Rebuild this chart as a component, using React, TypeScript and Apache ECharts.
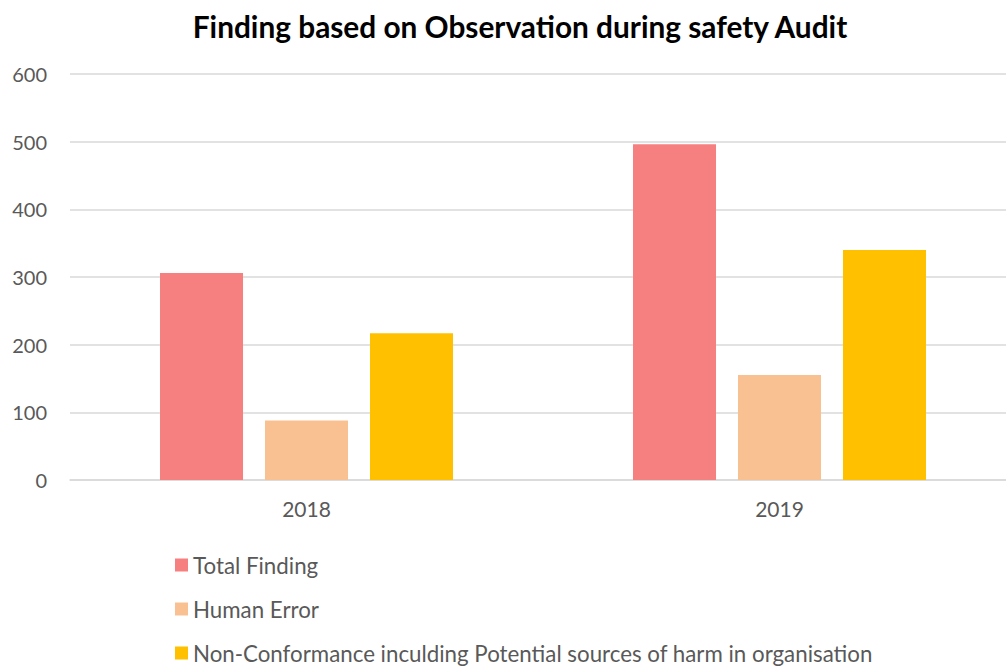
import React, { useEffect, useRef } from "react";
import * as echarts from "echarts";

const categories = ["2018", "2019"];
const seriesNames = [
  "Total Finding",
  "Human Error",
  "Non-Conformance inculding Potential sources of harm in organisation",
];
const totalFinding = [306, 496];
const humanError = [88, 155];
const nonConformance = [217, 340];
const colors = ["#F67F7F", "#F9C192", "#FFC000"];
const yTicks = { min: 0, max: 600, interval: 100 };

export default function App() {
  const ref = useRef<HTMLDivElement>(null);
  useEffect(() => {
    if (!ref.current) return;
    const chart = echarts.init(ref.current, null, { renderer: "svg" });
    const font = "Lato";
    const values = [totalFinding, humanError, nonConformance];
    chart.setOption({
      animation: false,
      backgroundColor: "#ffffff",
      title: {
        text: "Finding based on Observation during safety Audit",
        left: 515,
        textAlign: "center",
        top: 6,
        textStyle: { fontFamily: font, fontWeight: "bold", fontSize: 29.8, color: "#000000" },
      },
      grid: { left: 70, top: 74, width: 946, height: 406 },
      legend: {
        orient: "vertical",
        left: 170,
        top: 549,
        height: 125,
        itemWidth: 13,
        itemHeight: 13,
        itemGap: 22,
        icon: "rect",
        data: seriesNames,
        textStyle: { fontFamily: font, fontSize: 22.3, color: "#595959" },
      },
      xAxis: {
        type: "category",
        data: categories,
        axisLine: { lineStyle: { color: "#D9D9D9", width: 1.5 } },
        axisTick: { show: false },
        axisLabel: { fontFamily: font, fontSize: 21, color: "#595959", margin: 18 },
      },
      yAxis: {
        type: "value",
        min: yTicks.min,
        max: yTicks.max,
        interval: yTicks.interval,
        axisLine: { show: false },
        axisTick: { show: false },
        splitLine: { lineStyle: { color: "#D9D9D9", width: 1.5 } },
        axisLabel: { fontFamily: font, fontSize: 20, color: "#595959", margin: 23 },
      },
      series: seriesNames.map((name, i) => ({
        name,
        type: "bar",
        data: values[i],
        barWidth: 83,
        barGap: "26.5%",
        itemStyle: { color: colors[i] },
      })),
    });
    return () => chart.dispose();
  }, []);
  return (
    <div
      style={{
        position: "fixed",
        left: 0,
        top: 0,
        width: 1006,
        height: 669,
        overflow: "hidden",
        background: "#fff",
      }}
    >
      <div ref={ref} style={{ width: 1016, height: 669 }} />
    </div>
  );
}
